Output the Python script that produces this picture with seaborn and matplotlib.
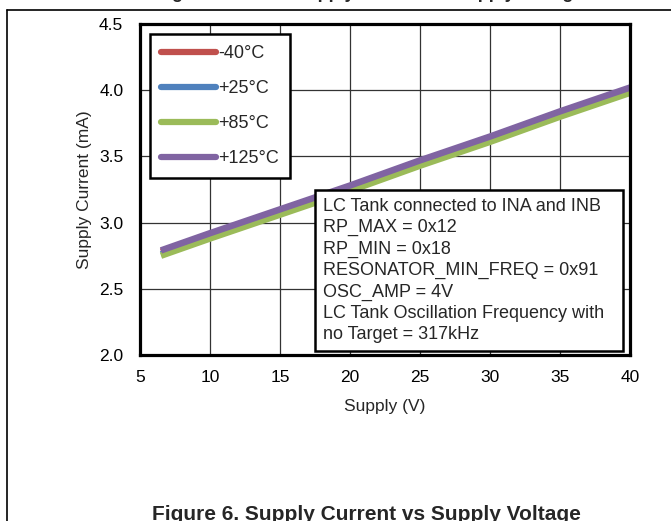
import pandas as pd
import numpy as np
import matplotlib.pyplot as plt
import seaborn as sns
from matplotlib.lines import Line2D
from matplotlib.patches import Rectangle

sns.set_style('white')
plt.rcParams['font.family'] = ['Liberation Sans', 'DejaVu Sans']

# supply voltage (V)
supply_v = [6.5, 10, 15, 20, 25, 30, 35, 40]
# supply current (mA) per temperature
i_m40 = [2.78, 2.91, 3.09, 3.27, 3.46, 3.64, 3.83, 4.01]
i_p25 = [2.76, 2.89, 3.07, 3.25, 3.44, 3.62, 3.81, 3.99]
i_p85 = [2.75, 2.88, 3.06, 3.24, 3.43, 3.61, 3.80, 3.98]
i_p125 = [2.79, 2.92, 3.10, 3.28, 3.47, 3.65, 3.84, 4.02]
temps = ['-40°C', '+25°C', '+85°C', '+125°C']
colors = ['#C0504D', '#4F81BD', '#9BBB59', '#8064A2']

x_ticks = [5, 10, 15, 20, 25, 30, 35, 40]
y_ticks = [2.0, 2.5, 3.0, 3.5, 4.0, 4.5]

note_lines = [
    'LC Tank connected to INA and INB',
    'RP_MAX = 0x12',
    'RP_MIN = 0x18',
    'RESONATOR_MIN_FREQ = 0x91',
    'OSC_AMP = 4V',
    'LC Tank Oscillation Frequency with',
    'no Target = 317kHz',
]

df = pd.concat([
    pd.DataFrame({'Supply (V)': supply_v, 'Current (mA)': vals, 'Temp': t})
    for vals, t in zip([i_m40, i_p25, i_p85, i_p125], temps)
])

fig = plt.figure(figsize=(6.71, 5.21), dpi=100)
W, H = 671, 521
ax = fig.add_axes([140 / W, 1 - 355 / H, 490 / W, 331 / H])

sns.lineplot(data=df, x='Supply (V)', y='Current (mA)', hue='Temp',
             hue_order=temps, palette=colors, linewidth=4.7, ax=ax,
             legend=False, solid_capstyle='butt')

ax.set_xlim(5, 40)
ax.set_ylim(2.0, 4.5)
ax.set_xticks(x_ticks)
ax.set_yticks(y_ticks)
ax.set_yticklabels([f'{v:.1f}' for v in y_ticks])
ax.grid(True, color='#333333', linewidth=0.9)
ax.set_axisbelow(True)
for s in ax.spines.values():
    s.set_color('black')
    s.set_linewidth(2.3)
ax.tick_params(axis='both', length=0, labelsize=12.5, colors='black')
ax.tick_params(axis='x', pad=11)
ax.tick_params(axis='y', pad=12)
ax.set_xlabel('Supply (V)', fontsize=12.5, labelpad=10)
ax.set_ylabel('Supply Current (mA)', fontsize=12.5, labelpad=5)

handles = [Line2D([0], [0], color=c, linewidth=4.5, solid_capstyle='round') for c in colors]
leg = ax.legend(handles, temps, loc='upper left',
                bbox_to_anchor=(10 / 490, 1 - 10 / 331), borderaxespad=0,
                fontsize=13, handlelength=3.05, handletextpad=0.12,
                labelspacing=1.0, frameon=True, fancybox=False,
                borderpad=0.6)
leg.get_frame().set_edgecolor('black')
leg.get_frame().set_linewidth(1.8)
leg.get_frame().set_alpha(1)

# annotation box
bx0, bx1 = (315 - 140) / 490, (623 - 140) / 490
by0, by1 = 1 - (351 - 24) / 331, 1 - (190 - 24) / 331
ax.add_patch(Rectangle((bx0, by0), bx1 - bx0, by1 - by0, transform=ax.transAxes,
                       facecolor='white', edgecolor='black', linewidth=1.8, zorder=5))
ax.text((323 - 140) / 490, by1 - 8 / 331, '\n'.join(note_lines), transform=ax.transAxes,
        ha='left', va='top', fontsize=13, linespacing=1.33, zorder=6)

# page frame and cut captions
fig.add_artist(Line2D([7 / W, 7 / W], [0, 1 - 10 / H], color='black', linewidth=1.2))
fig.add_artist(Line2D([7 / W, 1], [1 - 10 / H, 1 - 10 / H], color='black', linewidth=1.2))
fig.text(370 / W, 1 + 6 / H, 'Figure 5. Active Supply Current vs Supply Voltage',
         ha='center', va='center', fontsize=13, fontweight='bold')
fig.text(366 / W, 1 - 515 / H, 'Figure 6. Supply Current vs Supply Voltage',
         ha='center', va='center', fontsize=15, fontweight='bold')

plt.savefig('out.png', dpi=100)
plt.close()
